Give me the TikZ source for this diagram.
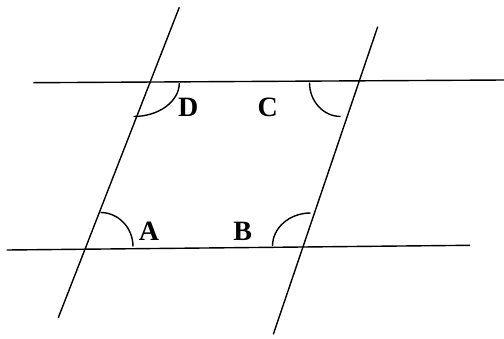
\documentclass[tikz,border=0pt]{standalone}
\usepackage{fontspec}
\setmainfont{Liberation Serif}
\begin{document}
\begin{tikzpicture}[x=1pt,y=-1pt,
  ln/.style={line width=1.4pt,black},
  arcline/.style={line width=1.4pt,black},
  lbl/.style={font=\fontsize{28}{28}\selectfont\bfseries,anchor=base,inner sep=0pt}]
\useasboundingbox (0,0) rectangle (504,338);
% line end points
\coordinate (t1) at (33.3,82.7);
\coordinate (t2) at (504,80);
\coordinate (b1) at (6.7,250);
\coordinate (b2) at (470,245.3);
\coordinate (l1) at (179.3,7.3);
\coordinate (l2) at (58.3,317.7);
\coordinate (r1) at (377.7,26.7);
\coordinate (r2) at (273.3,334.3);
\draw[ln] (t1) -- (t2);
\draw[ln] (b1) -- (b2);
\draw[ln] (l1) -- (l2);
\draw[ln] (r1) -- (r2);
% angle arcs
\coordinate (d0) at (179.3,83);   \coordinate (d1) at (133.5,116.5);
\coordinate (c0) at (309.5,82.7); \coordinate (c1) at (340.7,116.5);
\coordinate (a0) at (100.5,212.5);\coordinate (a1) at (133,246.5);
\coordinate (e0) at (272.5,246);  \coordinate (e1) at (310.5,213);
\draw[arcline] (d0) .. controls (179.3,101.5) and (158.8,116.5) .. (d1);
\draw[arcline] (c0) .. controls (309.5,101.4) and (323.5,116.5) .. (c1);
\draw[arcline] (a0) .. controls (118.4,212.5) and (133,227.7) .. (a1);
\draw[arcline] (e0) .. controls (272.5,227.8) and (289.5,213) .. (e1);
% labels
\node[lbl] (D) at (188.3,116.5) {D};
\node[lbl] (C) at (267.7,116.5) {C};
\node[lbl] (A) at (149,240) {A};
\node[lbl] (B) at (242.7,240) {B};
\end{tikzpicture}
\end{document}
